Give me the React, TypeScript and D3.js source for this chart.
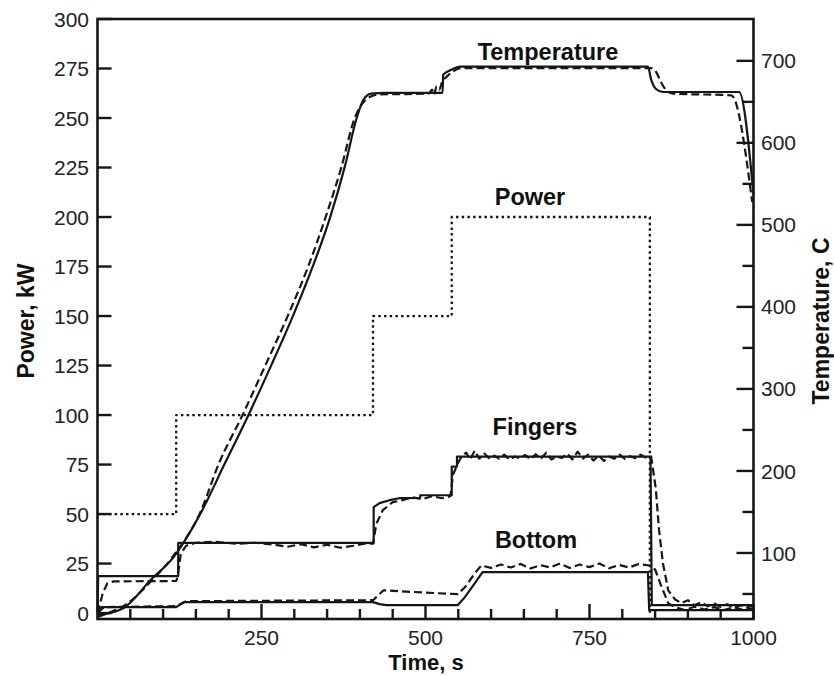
import React from "react";
import * as d3 from "d3";

// ---- Data (time in s; power in kW; temperature in C) ----
const powerT = [0, 120, 120, 420, 420, 540, 540, 842, 842];
const powerV = [50, 50, 100, 100, 150, 150, 200, 200, 0];

const tempSolidT = [0, 40, 81, 116, 157, 194, 230, 265, 298, 328, 355, 377, 395, 405, 417, 439, 526, 527, 539, 554, 839, 844, 851, 862, 978, 1000];
const tempSolidV = [24, 33, 67, 95, 148, 209, 268, 329, 389, 449, 510, 571, 630, 652, 660, 661, 661, 683, 689, 693, 693, 677, 666, 662, 662, 537];

const tempDashT = [0, 20, 43, 81, 119, 157, 185, 221, 256, 290, 321, 348, 372, 392, 402, 413, 429, 505, 510, 513, 517, 521, 526, 530, 534, 542, 554, 844, 851, 859, 866, 877, 966, 998];
const tempDashV = [22, 28, 37, 65, 100, 150, 209, 268, 329, 389, 449, 510, 571, 630, 646, 655, 659, 660, 665, 659, 669, 665, 676, 679, 682, 687, 691, 691, 687, 674, 665, 660, 658, 528];

const fingSolidT = [0, 1, 123, 123, 421, 421, 430, 445, 460, 492, 492, 540, 540, 548, 548, 560, 843, 845, 1000];
const fingSolidV = [0, 18.7, 18.7, 35.4, 35.4, 53.5, 55.5, 57, 58, 58.2, 59.5, 59.5, 74, 74, 79, 79, 79, 4, 4];

const fingDashT = [0, 8, 15, 25, 120, 122, 127, 135, 150, 180, 210, 240, 270, 290, 310, 330, 350, 370, 390, 410, 420, 425, 435, 450, 465, 480, 495, 510, 525, 538, 542, 550, 555, 562, 568, 575, 582, 590, 598, 605, 612, 620, 628, 636, 644, 652, 660, 668, 676, 684, 692, 700, 708, 716, 724, 732, 740, 748, 756, 764, 772, 780, 788, 796, 804, 812, 820, 828, 836, 844, 851, 856, 862, 870, 880, 890, 900, 910, 920, 930, 940, 950, 960, 970, 980, 990, 1000];
const fingDashV = [0, 10, 15, 16, 16.2, 18, 30, 34, 35.5, 36, 35, 35.5, 34.5, 33.5, 34.8, 33.2, 34.5, 33, 34, 35.2, 35, 45, 52, 56, 57, 58.5, 57.5, 59, 58, 59, 70, 76, 79, 81, 77.5, 82, 78, 80.5, 77.8, 79.5, 78, 80, 77.5, 79, 78.2, 79.8, 77.6, 80.2, 78, 81, 77.5, 79, 78.3, 80.5, 77.6, 81.5, 78, 80, 77, 79.5, 76.8, 79, 78, 80, 77.8, 79.2, 78.2, 80, 78.5, 79, 63, 42, 25, 11.5, 7, 5, 6.5, 4, 5.5, 3.5, 5, 3, 4.5, 2.5, 4, 2.8, 4];

const botSolidT = [0, 6, 120, 132, 420, 430, 440, 549, 560, 575, 587, 839, 841, 1000];
const botSolidV = [0, 3, 3, 5.5, 5.5, 4.5, 4, 4, 8, 15, 20.7, 20.7, 1.5, 1.5];

const botDashT = [0, 10, 120, 135, 420, 428, 436, 460, 520, 549, 560, 575, 585, 600, 615, 630, 645, 660, 675, 690, 705, 720, 735, 750, 765, 780, 795, 810, 825, 842, 850, 859, 870, 880, 895, 910, 925, 940, 955, 970, 985, 1000];
const botDashV = [0, 3, 3.5, 6, 6.5, 9, 11.5, 11, 10, 9.6, 13, 20, 24, 22.8, 24.5, 23, 24.8, 22.5, 24.2, 23, 25, 22.8, 24.5, 23.2, 25, 22.6, 24.3, 23, 24.8, 24, 22, 14, 5, 3, 1.5, 3.2, 1.8, 3, 1.5, 3, 1.5, 2.5];

const leftTicks = [0, 25, 50, 75, 100, 125, 150, 175, 200, 225, 250, 275, 300];
const rightMajor = [100, 200, 300, 400, 500, 600, 700];
const rightMinor = [50, 150, 250, 350, 450, 550, 650];
const xMajor = [250, 500, 750, 1000];
const xMinor = d3.range(50, 1000, 50).filter((v) => v % 250 !== 0);

// ---- Layout ----
const W = 834, H = 676;
const x = d3.scaleLinear().domain([0, 1000]).range([97.5, 753.5]);
const yL = d3.scaleLinear().domain([-3, 300]).range([619, 19]);
const yR = d3.scaleLinear().domain([19.5, 751]).range([619, 19]);

const zip = (a: number[], b: number[]) => a.map((t, i) => [t, b[i]] as [number, number]);
const lineL = d3.line<[number, number]>().x((d) => x(d[0])).y((d) => yL(d[1]));
const lineR = d3
  .line<[number, number]>()
  .x((d) => x(d[0]))
  .y((d) => yR(d[1]))
  .curve(d3.curveMonotoneX);

const INK = "#161616";
const FONT = "'Liberation Sans', Arial, Helvetica, sans-serif";

export default function App() {
  const x0 = x(0), x1 = x(1000), yT = yL(300), yB = yL(-3);
  return (
    <svg width={W} height={H} style={{ position: "absolute", left: 0, top: 0, background: "#fff" }} fontFamily={FONT}>
      <rect x={0} y={0} width={W} height={H} fill="#fff" />
      {/* series */}
      <g fill="none" stroke={INK} strokeLinejoin="round">
        <path d={lineL(zip(powerT, powerV))!} strokeWidth={2.3} strokeDasharray="2.5 3.2" />
        <path d={lineR(zip(tempSolidT, tempSolidV))!} strokeWidth={2.2} />
        <path d={lineR(zip(tempDashT, tempDashV))!} strokeWidth={2.2} strokeDasharray="8 4" />
        <path d={lineL(zip(fingSolidT, fingSolidV))!} strokeWidth={2.2} />
        <path d={lineL(zip(fingDashT, fingDashV))!} strokeWidth={2.2} strokeDasharray="8 4" />
        <path d={lineL(zip(botSolidT, botSolidV))!} strokeWidth={2.2} />
        <path d={lineL(zip(botDashT, botDashV))!} strokeWidth={2.2} strokeDasharray="8 4" />
      </g>
      {/* frame */}
      <rect x={x0} y={yT} width={x1 - x0} height={yB - yT} fill="none" stroke={INK} strokeWidth={2.6} />
      {/* ticks */}
      <g stroke={INK} strokeWidth={2.4}>
        {leftTicks.map((v) => (
          <line key={"l" + v} x1={x0} x2={x0 + 14} y1={yL(v)} y2={yL(v)} />
        ))}
        {rightMajor.map((v) => (
          <line key={"r" + v} x1={x1 - 17} x2={x1} y1={yR(v)} y2={yR(v)} />
        ))}
        {rightMinor.map((v) => (
          <line key={"rm" + v} x1={x1 - 11} x2={x1} y1={yR(v)} y2={yR(v)} />
        ))}
        {xMajor.map((v) => (
          <line key={"x" + v} x1={x(v)} x2={x(v)} y1={yB} y2={yB - 15} />
        ))}
        {xMinor.map((v) => (
          <line key={"xm" + v} x1={x(v)} x2={x(v)} y1={yB} y2={yB - 10} />
        ))}
      </g>
      {/* tick labels */}
      <g fill="#222" fontSize={21}>
        {leftTicks.map((v) => (
          <text key={"lt" + v} x={89} y={yL(v)} dy="0.36em" textAnchor="end">{v}</text>
        ))}
        {rightMajor.map((v) => (
          <text key={"rt" + v} x={761} y={yR(v)} dy="0.36em" textAnchor="start">{v}</text>
        ))}
        {xMajor.map((v) => (
          <text key={"xt" + v} x={x(v)} y={645} textAnchor="middle">{v}</text>
        ))}
      </g>
      {/* axis titles */}
      <g fill="#111" fontWeight="bold">
        <text x={426} y={670} textAnchor="middle" fontSize={22}>Time, s</text>
        <text transform="translate(34,321) rotate(-90)" textAnchor="middle" fontSize={23}>Power, kW</text>
        <text transform="translate(829,321) rotate(-90)" textAnchor="middle" fontSize={23}>Temperature, C</text>
      </g>
      {/* series annotations */}
      <g fill="#111" fontWeight="bold" fontSize={23.5}>
        <text x={548} y={60} textAnchor="middle">Temperature</text>
        <text x={530} y={205} textAnchor="middle">Power</text>
        <text x={535} y={435} textAnchor="middle">Fingers</text>
        <text x={536} y={548} textAnchor="middle">Bottom</text>
      </g>
    </svg>
  );
}
